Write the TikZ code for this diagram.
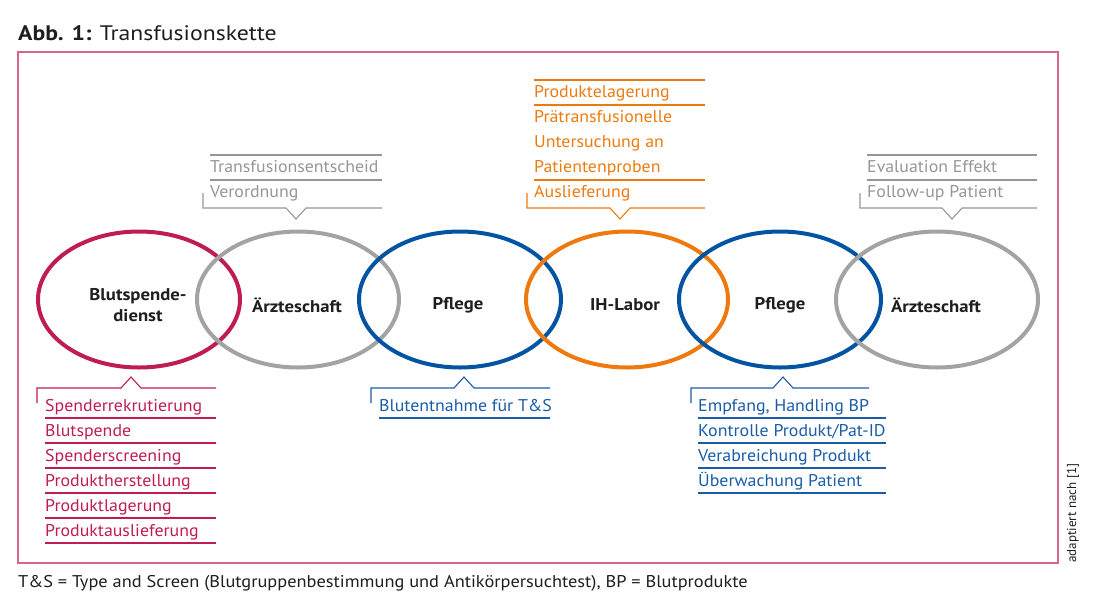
\documentclass[tikz,border=0pt]{standalone}
\usepackage{fontspec}
\setmainfont{PT Sans}
\newfontfamily\itemfont[FakeStretch=1.05]{PT Sans}
\newfontfamily\titlefont[FakeStretch=1.13]{PT Sans}
\newfontfamily\footfont[FakeStretch=1.08]{PT Sans}
\newfontfamily\lblfont[FakeStretch=1.10]{PT Sans}
\usetikzlibrary{shapes.geometric}
\definecolor{redc}{RGB}{192,28,84}
\definecolor{grayc}{RGB}{163,163,163}
\definecolor{graytxt}{RGB}{150,150,150}
\definecolor{bluec}{RGB}{2,84,163}
\definecolor{bluetxt}{RGB}{26,92,168}
\definecolor{orangec}{RGB}{238,122,15}
\definecolor{framec}{RGB}{217,102,138}
\definecolor{inkc}{RGB}{30,30,30}
\tikzset{
  ell/.style={ellipse,line width=4pt,minimum width=202pt,minimum height=136pt,inner sep=0pt},
  lbl/.style={font=\lblfont\fontsize{17}{20.5}\selectfont\bfseries,text=inkc,align=center,inner sep=0pt},
  itm/.style={anchor=base west,inner sep=0pt,font=\itemfont\fontsize{17}{20}\selectfont},
  rule/.style={line width=1.1pt},
  brk/.style={line width=1.1pt,line join=miter},
}
\begin{document}
\begin{tikzpicture}[x=1pt,y=-1pt]
\useasboundingbox (0,0) rectangle (1100,614);
% title
\node[anchor=base west,inner sep=0pt,text=inkc,font=\titlefont\fontsize{21}{24}\selectfont] (title) at (18,40) {\textbf{Abb. 1:} Transfusionskette};
% frame
\draw[framec,line width=1.5pt] (18,52) rectangle (1058,563);
% ellipses
\node[ell,draw=redc] (e1) at (139,299.5) {};
\node[ell,draw=grayc] (e2) at (298,299.5) {};
\node[ell,draw=bluec] (e3) at (460,299.5) {};
\node[ell,draw=orangec] (e4) at (627,299.5) {};
\node[ell,draw=bluec] (e5) at (780,299.5) {};
\node[ell,draw=grayc] (e6) at (937,299.5) {};
% labels
\node[lbl] (l1) at (138,305) {Blutspende-\\dienst};
\node[lbl] (l2) at (297,305) {Ärzteschaft};
\node[lbl] (l3) at (458,305) {Pflege};
\node[lbl] (l4) at (625,305) {IH-Labor};
\node[lbl] (l5) at (780,305) {Pflege};
\node[lbl] (l6) at (936,305) {Ärzteschaft};
% gray callout 1
\begin{scope}[graytxt]
\draw[rule] (210,155) -- (382,155);
\draw[rule] (210,180) -- (382,180);
\draw[brk] (203,193) -- (203,208) -- (286,208) -- (296,219) -- (306,208) -- (382,208);
\node[itm,text=graytxt] (g1a) at (210,172) {Transfusionsentscheid};
\node[itm,text=graytxt] (g1b) at (210,197) {Verordnung};
\end{scope}
% orange callout
\begin{scope}[orangec]
\draw[rule] (534,80) -- (705,80);
\draw[rule] (534,105) -- (705,105);
\draw[rule] (534,180) -- (705,180);
\draw[brk] (527,193) -- (527,208) -- (610,208) -- (620,219) -- (630,208) -- (705,208);
\node[itm,text=orangec] (o1) at (534,97) {Produktelagerung};
\node[itm,text=orangec] (o2) at (534,122) {Prätransfusionelle};
\node[itm,text=orangec] (o3) at (534,147) {Untersuchung an};
\node[itm,text=orangec] (o4) at (534,172) {Patientenproben};
\node[itm,text=orangec] (o5) at (534,197) {Auslieferung};
\end{scope}
% gray callout 2
\begin{scope}[graytxt]
\draw[rule] (867,155) -- (1037,155);
\draw[rule] (867,180) -- (1037,180);
\draw[brk] (860,193) -- (860,208) -- (942,208) -- (952,219) -- (962,208) -- (1037,208);
\node[itm,text=graytxt] (g2a) at (867,172) {Evaluation Effekt};
\node[itm,text=graytxt] (g2b) at (867,197) {Follow-up Patient};
\end{scope}
% red callout
\begin{scope}[redc]
\draw[brk] (37,403) -- (37,388) -- (121,388) -- (131,377) -- (141,388) -- (216,388);
\foreach \y in {418,443,468,493,518,543} \draw[rule] (45,\y) -- (216,\y);
\node[itm,text=redc] (r1) at (45,411) {Spenderrekrutierung};
\node[itm,text=redc] (r2) at (45,436) {Blutspende};
\node[itm,text=redc] (r3) at (45,461) {Spenderscreening};
\node[itm,text=redc] (r4) at (45,486) {Produktherstellung};
\node[itm,text=redc] (r5) at (45,511) {Produktlagerung};
\node[itm,text=redc] (r6) at (45,536) {Produktauslieferung};
\end{scope}
% blue callout 1
\begin{scope}[bluetxt]
\draw[brk] (371,403) -- (371,388) -- (454,388) -- (464,377) -- (474,388) -- (550,388);
\draw[rule] (379,418) -- (550,418);
\node[itm,text=bluetxt] (b1) at (379,411) {Blutentnahme für T\&S};
\end{scope}
% blue callout 2
\begin{scope}[bluetxt]
\draw[brk] (691,403) -- (691,388) -- (773,388) -- (783,377) -- (793,388) -- (869,388);
\foreach \y in {418,443,468,493} \draw[rule] (698,\y) -- (886,\y);
\node[itm,text=bluetxt] (c1) at (698,411) {Empfang, Handling BP};
\node[itm,text=bluetxt] (c2) at (698,436) {Kontrolle Produkt/Pat-ID};
\node[itm,text=bluetxt] (c3) at (698,461) {Verabreichung Produkt};
\node[itm,text=bluetxt] (c4) at (698,486) {Überwachung Patient};
\end{scope}
% source note
\node[anchor=base west,rotate=90,inner sep=0pt,text=inkc,font=\fontsize{13}{15}\selectfont] (src) at (1076,563) {adaptiert nach [1]};
% footnote
\node[anchor=base west,inner sep=0pt,text=inkc,font=\footfont\fontsize{17}{20}\selectfont] (foot) at (18,587) {T\&S = Type and Screen (Blutgruppenbestimmung und Antikörpersuchtest), BP = Blutprodukte};
\end{tikzpicture}
\end{document}
